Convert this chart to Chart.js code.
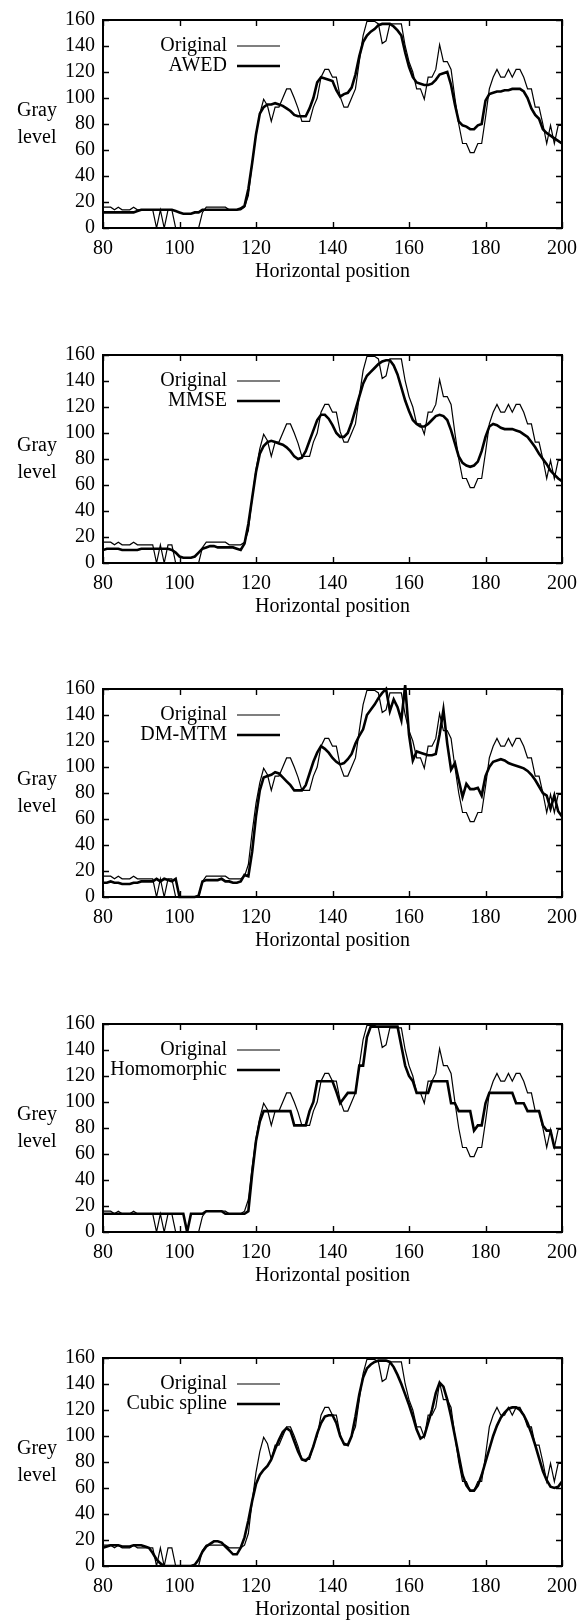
<!DOCTYPE html>
<html>
<head>
<meta charset="utf-8">
<script src="https://cdn.jsdelivr.net/npm/chart.js@4"></script>
<style>
  body { margin: 0; background: #fff; width: 586px; height: 1620px; overflow: hidden; position: relative; }
  canvas { position: absolute; left: 0; }
</style>
</head>
<body>
<script>
// Horizontal positions (pixels 80..200)
const positions = [
    80, 81, 82, 83, 84, 85, 86, 87, 88, 89,
    90, 91, 92, 93, 94, 95, 96, 97, 98, 99,
    100, 101, 102, 103, 104, 105, 106, 107, 108, 109,
    110, 111, 112, 113, 114, 115, 116, 117, 118, 119,
    120, 121, 122, 123, 124, 125, 126, 127, 128, 129,
    130, 131, 132, 133, 134, 135, 136, 137, 138, 139,
    140, 141, 142, 143, 144, 145, 146, 147, 148, 149,
    150, 151, 152, 153, 154, 155, 156, 157, 158, 159,
    160, 161, 162, 163, 164, 165, 166, 167, 168, 169,
    170, 171, 172, 173, 174, 175, 176, 177, 178, 179,
    180, 181, 182, 183, 184, 185, 186, 187, 188, 189,
    190, 191, 192, 193, 194, 195, 196, 197, 198, 199,
    200
];

const xTicks = [80, 100, 120, 140, 160, 180, 200];
const yTicks = [0, 20, 40, 60, 80, 100, 120, 140, 160];

// Original gray level profile
const original = [
    16, 16, 16, 14, 16, 14, 14, 14, 16, 14,
    14, 14, 14, 14, 0, 14, 0, 14, 14, 0,
    0, 0, 0, 0, 0, 0, 12, 16, 16, 16,
    16, 16, 16, 14, 14, 14, 14, 16, 25, 50,
    72, 88, 99, 94, 82, 93, 93, 100, 107, 107,
    100, 92, 82, 82, 82, 93, 100, 116, 122, 122,
    116, 116, 101, 93, 93, 100, 107, 128, 148, 159,
    159, 159, 157, 142, 144, 157, 157, 157, 157, 140,
    128, 120, 107, 107, 99, 116, 116, 122, 141, 128,
    128, 122, 100, 80, 65, 65, 58, 58, 65, 65,
    85, 107, 116, 122, 116, 116, 122, 116, 122, 122,
    116, 107, 107, 93, 93, 80, 65, 79, 65, 79,
    79
];

const awed = [
    12, 12, 12, 12, 12, 12, 12, 12, 12, 13,
    14, 14, 14, 14, 14, 14, 14, 14, 14, 13,
    12, 11, 11, 11, 12, 12, 14, 14, 14, 14,
    14, 14, 14, 14, 14, 14, 15, 17, 30, 50,
    72, 88, 93, 95, 95, 96, 95, 94, 92, 90,
    87, 86, 86, 86, 92, 100, 112, 116, 115, 114,
    113, 106, 101, 103, 104, 108, 118, 132, 143, 148,
    151, 153, 156, 157, 157, 157, 155, 152, 148, 135,
    124, 116, 112, 111, 110, 110, 111, 114, 118, 119,
    120, 110, 95, 82, 79, 78, 76, 76, 79, 80,
    98, 103, 104, 105, 105, 106, 106, 107, 107, 107,
    105, 100, 92, 87, 84, 76, 73, 71, 69, 67,
    65
];

const mmse = [
    10, 11, 11, 11, 11, 10, 10, 10, 10, 10,
    11, 11, 11, 11, 11, 11, 11, 11, 10, 8,
    5, 4, 4, 4, 5, 8, 11, 12, 13, 13,
    12, 12, 12, 12, 12, 11, 10, 15, 30, 50,
    70, 84, 90, 93, 94, 93, 92, 91, 89, 86,
    82, 80, 81, 86, 94, 102, 110, 114, 114, 111,
    106, 100, 97, 97, 100, 108, 118, 128, 138, 144,
    147, 150, 153, 155, 156, 156, 152, 145, 135, 125,
    117, 110, 107, 105, 105, 107, 110, 113, 114, 113,
    110, 102, 92, 82, 77, 75, 74, 75, 78, 86,
    97, 105, 107, 106, 104, 103, 103, 103, 102, 101,
    99, 97, 93, 89, 84, 80, 76, 71, 68, 65,
    63
];

const dmMtm = [
    11, 11, 12, 11, 11, 10, 10, 10, 11, 11,
    12, 12, 12, 12, 14, 12, 14, 13, 12, 14,
    0, 0, 0, 0, 0, 1, 12, 13, 13, 13,
    13, 14, 12, 12, 11, 11, 12, 17, 16, 35,
    62, 82, 92, 93, 94, 96, 95, 92, 89, 86,
    82, 82, 82, 86, 95, 104, 111, 116, 114, 111,
    107, 104, 102, 103, 106, 110, 118, 124, 129, 140,
    144, 148, 153, 157, 160, 143, 152, 146, 136, 163,
    125, 105, 112, 111, 110, 109, 109, 110, 125, 144,
    118, 98, 103, 90, 77, 87, 83, 83, 84, 78,
    93, 100, 104, 105, 106, 105, 103, 102, 101, 100,
    99, 97, 94, 90, 85, 80, 78, 68, 78, 66,
    62
];

const homomorphic = [
    14, 14, 14, 14, 14, 14, 14, 14, 14, 14,
    14, 14, 14, 14, 14, 14, 14, 14, 14, 14,
    14, 14, 0, 14, 14, 14, 14, 16, 16, 16,
    16, 16, 14, 14, 14, 14, 14, 14, 16, 45,
    70, 85, 93, 93, 93, 93, 93, 93, 93, 93,
    82, 82, 82, 82, 93, 100, 116, 116, 116, 116,
    116, 108, 99, 103, 107, 107, 107, 128, 128, 150,
    158, 158, 158, 158, 158, 158, 158, 158, 143, 128,
    120, 116, 107, 107, 107, 107, 116, 116, 116, 116,
    116, 99, 99, 93, 93, 93, 93, 78, 82, 82,
    99, 107, 107, 107, 107, 107, 107, 107, 99, 99,
    99, 93, 93, 93, 93, 82, 78, 78, 65, 65,
    65
];

const cubicSpline = [
    14, 15, 16, 16, 16, 15, 15, 15, 16, 16,
    16, 15, 14, 10, 5, 2, 0, 0, 0, 0,
    0, 0, 0, 0, 1, 5, 11, 15, 17, 19,
    19, 18, 15, 12, 9, 9, 14, 22, 35, 50,
    63, 70, 74, 77, 82, 90, 97, 103, 106, 104,
    96, 88, 82, 81, 84, 92, 102, 110, 115, 116,
    116, 110, 100, 94, 93, 100, 115, 132, 145, 152,
    155, 157, 158, 158, 158, 157, 153, 147, 140, 132,
    124, 115, 105, 98, 100, 110, 120, 133, 141, 138,
    128, 115, 100, 85, 70, 62, 58, 58, 62, 70,
    80, 90, 100, 108, 114, 118, 121, 122, 122, 120,
    116, 110, 102, 93, 83, 73, 66, 61, 60, 61,
    65
];

const methodNames = ['AWED', 'MMSE', 'DM-MTM', 'Homomorphic', 'Cubic spline'];
const methodSeries = [awed, mmse, dmMtm, homomorphic, cubicSpline];
const yTitles = [['Gray', 'level'], ['Gray', 'level'], ['Gray', 'level'], ['Grey', 'level'], ['Grey', 'level']];
const panelTops = [0, 335, 669, 1004, 1338];

const serif = "'Liberation Serif', 'Times New Roman', Times, serif";
const fontSize = 20;

// gnuplot style frame: inward ticks on all sides, y title and key
const marcoGnuplot = {
    id: 'marcoGnuplot',
    afterDatasetsDraw(chart, args, opts) {
        const { ctx, chartArea: { left, right, top, bottom }, scales: { x, y } } = chart;
        const tick = 6;
        ctx.save();
        ctx.strokeStyle = '#000';
        ctx.lineWidth = 1.4;
        ctx.beginPath();
        xTicks.forEach(v => {
            const px = Math.round(x.getPixelForValue(v)) + 0.5;
            ctx.moveTo(px, bottom); ctx.lineTo(px, bottom - tick);
            ctx.moveTo(px, top); ctx.lineTo(px, top + tick);
        });
        yTicks.forEach(v => {
            const py = Math.round(y.getPixelForValue(v)) + 0.5;
            ctx.moveTo(left, py); ctx.lineTo(left + tick, py);
            ctx.moveTo(right, py); ctx.lineTo(right - tick, py);
        });
        ctx.stroke();

        ctx.lineWidth = 2;
        ctx.strokeRect(left, top, right - left, bottom - top);

        // y title, horizontal, two lines
        ctx.fillStyle = '#000';
        ctx.font = fontSize + 'px ' + serif;
        ctx.textAlign = 'center';
        ctx.textBaseline = 'middle';
        const mid = (top + bottom) / 2;
        ctx.fillText(opts.yTitle[0], 37, mid - 13);
        ctx.fillText(opts.yTitle[1], 37, mid + 14);

        // key: text right aligned, sample line on its right
        ctx.textAlign = 'right';
        chart.data.datasets.slice().reverse().forEach((ds, i) => {
            const ky = top + 26 + i * 20;
            ctx.fillText(ds.label, 227, ky);
            ctx.lineWidth = ds.borderWidth;
            ctx.strokeStyle = ds.borderColor;
            ctx.beginPath();
            ctx.moveTo(237, ky);
            ctx.lineTo(280, ky);
            ctx.stroke();
        });
        ctx.restore();
    }
};

const crearPanel = (i) => {
    const canvas = document.createElement('canvas');
    canvas.width = 586;
    canvas.height = 335;
    canvas.style.top = panelTops[i] + 'px';
    document.body.appendChild(canvas);

    const tickFont = { family: serif, size: fontSize };

    new Chart(canvas.getContext('2d'), {
        type: 'line',
        data: {
            labels: positions,
            datasets: [
                {
                    label: methodNames[i],
                    data: methodSeries[i],
                    borderColor: '#000',
                    borderWidth: 2.6,
                    pointRadius: 0,
                    tension: 0,
                    clip: i === 2 ? false : undefined
                },
                {
                    label: 'Original',
                    data: original,
                    borderColor: '#000',
                    borderWidth: 1.2,
                    pointRadius: 0,
                    tension: 0
                }
            ]
        },
        options: {
            responsive: false,
            animation: false,
            layout: { padding: { left: 0, right: 24, top: 14, bottom: 0 } },
            plugins: {
                legend: { display: false },
                tooltip: { enabled: false },
                marcoGnuplot: { yTitle: yTitles[i] }
            },
            scales: {
                x: {
                    type: 'linear',
                    min: 80,
                    max: 200,
                    grid: { display: false, drawTicks: false },
                    border: { display: false },
                    ticks: { stepSize: 20, padding: 9, color: '#000', font: tickFont, maxRotation: 0, autoSkip: false },
                    title: {
                        display: true,
                        text: 'Horizontal position',
                        color: '#000',
                        font: tickFont,
                        padding: { top: 0, bottom: 51 }
                    },
                    afterFit: (s) => { s.height = 107; }
                },
                y: {
                    min: 0,
                    max: 160,
                    grid: { display: false, drawTicks: false },
                    border: { display: false },
                    ticks: { stepSize: 20, padding: 8, color: '#000', font: tickFont, autoSkip: false },
                    afterFit: (s) => { s.width = 103; }
                }
            }
        },
        plugins: [marcoGnuplot]
    });
};

methodNames.forEach((n, i) => crearPanel(i));
</script>
</body>
</html>
